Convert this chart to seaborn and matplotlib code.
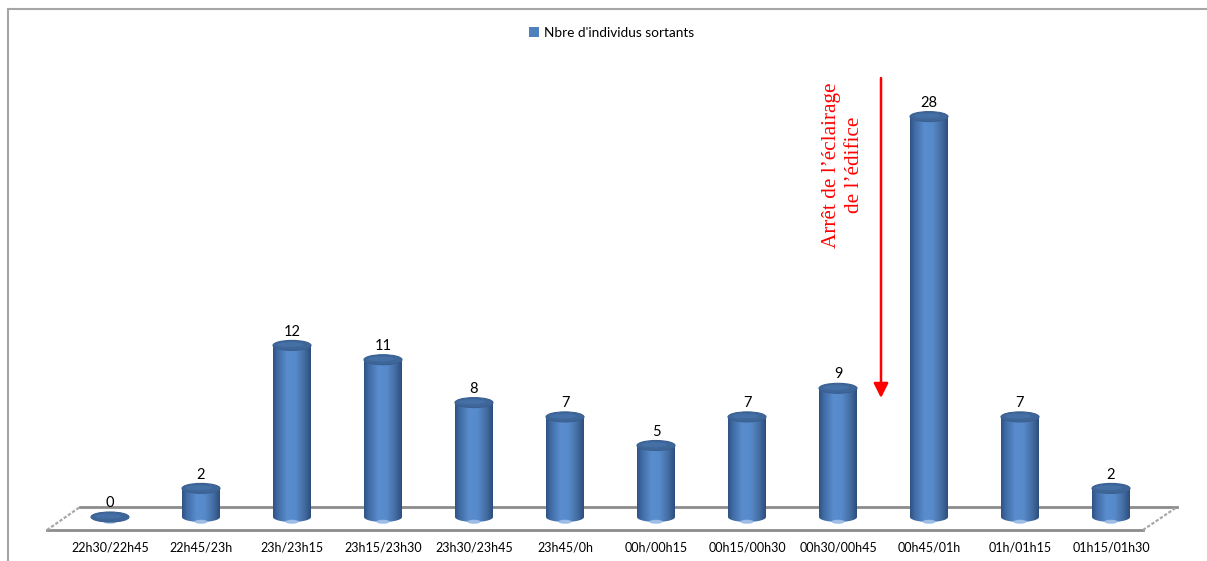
import numpy as np
import pandas as pd
import matplotlib
matplotlib.use("Agg")
import matplotlib.pyplot as plt
import seaborn as sns
from matplotlib.patches import Ellipse, PathPatch
from matplotlib.path import Path
from matplotlib.colors import LinearSegmentedColormap
from matplotlib.lines import Line2D

# --- data -------------------------------------------------------------
periods = ["22h30/22h45", "22h45/23h", "23h/23h15", "23h15/23h30",
           "23h30/23h45", "23h45/0h", "00h/00h15", "00h15/00h30",
           "00h30/00h45", "00h45/01h", "01h/01h15", "01h15/01h30"]
sortants = [0, 2, 12, 11, 8, 7, 5, 7, 9, 28, 7, 2]
series_name = "Nbre d'individus sortants"
annotation = "Arrêt de l’éclairage\nde l’édifice"

df = pd.DataFrame({"periode": periods, "n": sortants})

# --- figure -----------------------------------------------------------
W, H = 1207, 561
fig = plt.figure(figsize=(W / 100, H / 100), dpi=100)
ax = fig.add_axes([0, 0, 1, 1])

# pixel <-> data helpers for the 3-D floor decoration
X0, DX = 110.0, 91.0      # first category centre, spacing (px)
Y0, DY = 517.0, 14.3      # base line, px per individual
def px(x):
    return (x - X0) / DX
def py(y):
    return (Y0 - y) / DY

BAR_W = 38 / DX
ELL_H = 10 / DY

blue = "#4F81BD"
sns.barplot(data=df, x="periode", y="n", ax=ax, color=blue, width=BAR_W,
            saturation=1, label=series_name, zorder=3, linewidth=0)

ax.set_xlim(px(0), px(W))
ax.set_ylim(py(H), py(0))
ax.axis("off")

# floor of the 3-D plot area
grey = "#8C8C8C"
ax.plot([px(80), px(1177)], [py(507), py(507)], color=grey, lw=2, zorder=1)
ax.plot([px(47), px(1143)], [py(530), py(530)], color=grey, lw=2, zorder=1)
for xa, xb in [(47, 80), (1143, 1177)]:
    ax.plot([px(xa), px(xb)], [py(530), py(507)], color="#A8A8A8", lw=1.6,
            ls=(0, (1.5, 0.8)), zorder=1)

# cylinder shading
cmap = LinearSegmentedColormap.from_list(
    "cyl", [(0.0, "#2E5283"), (0.12, "#3F6AA3"), (0.38, "#5A8DCE"),
            (0.6, "#578ACA"), (0.85, "#41699D"), (1.0, "#2C4D7C")])
grad = np.linspace(0, 1, 256)[None, :]

for patch, val in zip(ax.patches, sortants):
    xl = patch.get_x()
    w = patch.get_width()
    xc = xl + w / 2
    a, b = w / 2, ELL_H / 2
    if val > 0:
        t = np.linspace(np.pi, 2 * np.pi, 60)
        arc = np.column_stack([xc + a * np.cos(t), 0 + b * np.sin(t)])
        verts = np.vstack([[xl, val], [xl, 0], arc, [xl + w, val], [xl, val]])
        clip = PathPatch(Path(verts), transform=ax.transData,
                         facecolor="none", edgecolor="none")
        ax.add_patch(clip)
        im = ax.imshow(grad, cmap=cmap, aspect="auto",
                       extent=[xl, xl + w, -b, val], zorder=4,
                       interpolation="bilinear")
        im.set_clip_path(clip)
        patch.set_visible(False)
    # light reflection under the cylinder
    ax.add_patch(Ellipse((xc, -b * 0.95), w * 0.35, b * 0.8,
                         color="#9DBCE6", zorder=4.5, lw=0))
    # top cap
    ax.add_patch(Ellipse((xc, val), w, ELL_H, facecolor="#3E6699",
                         edgecolor="#3A5F90", lw=0.8, zorder=5))
    ax.add_patch(Ellipse((xc - w * 0.05, val + b * 0.15), w * 0.7, ELL_H * 0.5,
                         facecolor="#4470A6", edgecolor="none", zorder=5.1))
    ax.annotate(str(val), (xc, val), xytext=(0, 10), textcoords="offset points",
                ha="center", va="center", fontsize=10.5, family="Lato",
                color="black", zorder=6)

# category labels
for i, lab in enumerate(periods):
    ax.text(i, py(547), lab, ha="center", va="center", fontsize=9,
            family="Lato", color="black")

# lighting annotation
ax.annotate("", xy=(px(881), py(398)), xytext=(px(881), py(78)),
            arrowprops=dict(arrowstyle="-|>", color="red", lw=1.8,
                            mutation_scale=22, shrinkA=0, shrinkB=0),
            zorder=6)
ax.text(px(843), py(165), annotation, rotation=90, ha="center", va="center",
        multialignment="center", fontsize=15.3, family="Liberation Serif",
        color="red", linespacing=1.3)

# legend
ax.legend(loc="center", bbox_to_anchor=(px(612), py(33)),
          bbox_transform=ax.transData, frameon=False,
          prop={"family": "Lato", "size": 9.8},
          handlelength=0.7, handleheight=0.7, handletextpad=0.4)

# chart frame
fig.add_artist(Line2D([8 / W, 1], [1 - 9 / H, 1 - 9 / H], color="#A6A6A6",
                      lw=1.5, transform=fig.transFigure))
fig.add_artist(Line2D([8 / W, 8 / W], [0, 1 - 9 / H], color="#A6A6A6",
                      lw=1.5, transform=fig.transFigure))

fig.savefig("out.png", dpi=100)
